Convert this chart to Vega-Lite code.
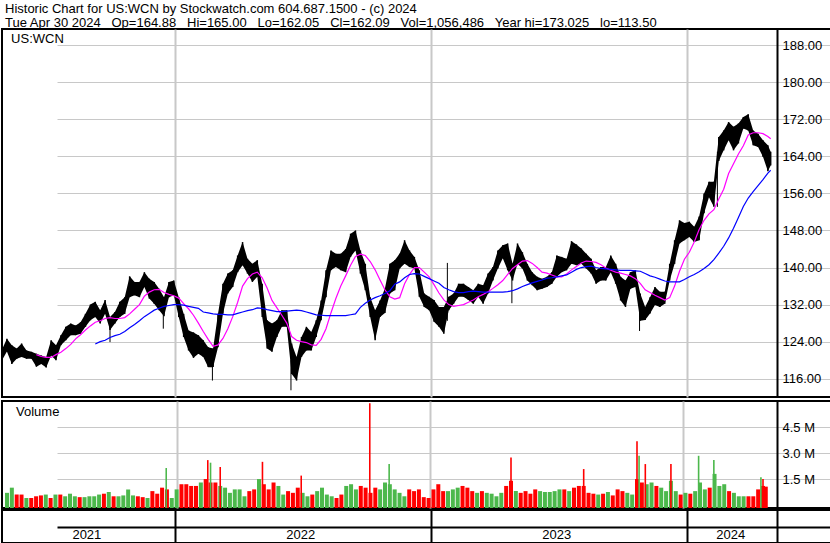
{
  "$schema": "https://vega.github.io/schema/vega-lite/v6.json",
  "background": "white",
  "padding": {"top": 3, "left": 0, "right": 0, "bottom": 0},
  "config": {
    "view": {"stroke": "black", "strokeWidth": 2},
    "axis": {"labelFont": "Liberation Sans", "labelFontSize": 13, "labelColor": "black"},
    "text": {"font": "Liberation Sans"}
  },
  "title": {
    "text": "Historic Chart for US:WCN by Stockwatch.com 604.687.1500 - (c) 2024",
    "subtitle": "Tue Apr 30 2024\u00a0\u00a0 Op=164.88\u00a0\u00a0 Hi=165.00\u00a0\u00a0 Lo=162.05\u00a0\u00a0 Cl=162.09\u00a0\u00a0 Vol=1,056,486\u00a0\u00a0 Year hi=173.025\u00a0\u00a0 lo=113.50",
    "anchor": "start", "frame": "group", "dx": 3, "offset": -2,
    "font": "Liberation Sans", "subtitleFont": "Liberation Sans",
    "fontSize": 13, "subtitleFontSize": 13, "fontWeight": "normal",
    "color": "black", "subtitleColor": "black", "subtitlePadding": 1
  },
  "datasets": {
    "w": [
      {"d":"2021-04-30","h":122.3,"l":120.0,"v":0.7,"c":"up"},
      {"d":"2021-05-07","h":124.6,"l":121.9,"v":1.0,"c":"up"},
      {"d":"2021-05-14","h":123.2,"l":119.2,"v":0.6,"c":"dn"},
      {"d":"2021-05-21","h":122.5,"l":120.3,"v":0.6,"c":"dn"},
      {"d":"2021-05-28","h":123.6,"l":120.7,"v":0.4,"c":"up"},
      {"d":"2021-06-04","h":122.1,"l":120.3,"v":0.4,"c":"dn"},
      {"d":"2021-06-11","h":121.8,"l":120.3,"v":0.5,"c":"dn"},
      {"d":"2021-06-18","h":121.4,"l":118.6,"v":0.55,"c":"dn","m1":121.2},
      {"d":"2021-06-25","h":121.0,"l":119.2,"v":0.6,"c":"up","m1":120.8},
      {"d":"2021-07-02","h":120.7,"l":118.4,"v":0.4,"c":"dn","m1":120.6},
      {"d":"2021-07-09","h":124.3,"l":121.0,"v":0.6,"c":"up","m1":120.6},
      {"d":"2021-07-16","h":123.2,"l":120.0,"v":0.6,"c":"dn","m1":121.2},
      {"d":"2021-07-23","h":125.4,"l":123.2,"v":0.5,"c":"up","m1":121.7},
      {"d":"2021-07-30","h":127.2,"l":124.3,"v":0.65,"c":"up","m1":122.5},
      {"d":"2021-08-06","h":127.9,"l":125.4,"v":0.5,"c":"up","m1":123.4},
      {"d":"2021-08-13","h":127.5,"l":125.4,"v":0.45,"c":"dn","m1":124.6},
      {"d":"2021-08-20","h":128.2,"l":125.7,"v":0.45,"c":"up","m1":125.5},
      {"d":"2021-08-27","h":130.0,"l":127.2,"v":0.5,"c":"up","m1":126.5},
      {"d":"2021-09-03","h":132.0,"l":128.6,"v":0.5,"c":"up","m1":127.4},
      {"d":"2021-09-10","h":132.6,"l":129.3,"v":0.6,"c":"up","m1":128.2,"m2":123.5},
      {"d":"2021-09-17","h":130.8,"l":127.9,"v":0.65,"c":"dn","m1":128.5,"m2":124.0},
      {"d":"2021-09-24","h":133.0,"l":130.0,"v":0.75,"c":"up","m1":129.0,"m2":124.3},
      {"d":"2021-10-01","h":129.3,"l":126.5,"v":0.5,"c":"dn","m1":129.2,"m2":124.9},
      {"d":"2021-10-08","h":130.4,"l":127.9,"v":0.5,"c":"up","m1":129.0,"m2":125.3},
      {"d":"2021-10-15","h":132.6,"l":129.3,"v":0.55,"c":"up","m1":129.0,"m2":125.6},
      {"d":"2021-10-22","h":133.6,"l":130.0,"v":0.9,"c":"up","m1":129.2,"m2":126.2},
      {"d":"2021-10-29","h":138.1,"l":133.6,"v":0.55,"c":"up","m1":130.0,"m2":127.0},
      {"d":"2021-11-05","h":136.9,"l":134.0,"v":0.5,"c":"dn","m1":131.0,"m2":127.7},
      {"d":"2021-11-12","h":136.9,"l":133.6,"v":0.45,"c":"dn","m1":132.0,"m2":128.5},
      {"d":"2021-11-19","h":139.0,"l":135.8,"v":0.4,"c":"up","m1":133.8,"m2":129.4},
      {"d":"2021-11-26","h":137.6,"l":133.3,"v":0.8,"c":"dn","m1":134.7,"m2":130.1},
      {"d":"2021-12-03","h":136.9,"l":132.2,"v":0.65,"c":"dn","m1":135.2,"m2":130.8},
      {"d":"2021-12-10","h":135.4,"l":130.8,"v":1.0,"c":"dn","m1":135.3,"m2":131.2},
      {"d":"2021-12-17","h":133.6,"l":129.5,"v":0.9,"c":"dn","m1":134.6,"m2":131.6},
      {"d":"2021-12-24","h":136.9,"l":133.6,"v":0.4,"c":"up","m1":134.2,"m2":131.8},
      {"d":"2021-12-31","h":137.2,"l":134.0,"v":0.9,"c":"up","m1":133.9,"m2":132.0},
      {"d":"2022-01-07","h":133.6,"l":129.3,"v":1.2,"c":"dn","m1":133.4,"m2":132.0},
      {"d":"2022-01-14","h":130.0,"l":125.0,"v":1.2,"c":"dn","m1":132.2,"m2":131.9},
      {"d":"2022-01-21","h":126.4,"l":122.1,"v":1.1,"c":"dn","m1":131.1,"m2":131.6},
      {"d":"2022-01-28","h":126.0,"l":120.5,"v":1.1,"c":"dn","m1":129.7,"m2":131.4},
      {"d":"2022-02-04","h":125.4,"l":121.4,"v":1.3,"c":"up","m1":128.0,"m2":131.2},
      {"d":"2022-02-11","h":124.3,"l":120.7,"v":1.5,"c":"dn","m1":126.2,"m2":130.4},
      {"d":"2022-02-18","h":122.8,"l":118.5,"v":1.3,"c":"dn","m1":124.5,"m2":130.2},
      {"d":"2022-02-25","h":122.5,"l":118.5,"v":1.3,"c":"dn","m1":123.0,"m2":130.0},
      {"d":"2022-03-04","h":130.0,"l":122.8,"v":1.1,"c":"up","m1":123.3,"m2":129.9},
      {"d":"2022-03-11","h":136.5,"l":130.0,"v":1.0,"c":"up","m1":124.7,"m2":129.9},
      {"d":"2022-03-18","h":138.7,"l":134.4,"v":0.7,"c":"up","m1":126.8,"m2":129.8},
      {"d":"2022-03-25","h":139.4,"l":135.8,"v":0.9,"c":"up","m1":129.4,"m2":129.8},
      {"d":"2022-04-01","h":142.6,"l":139.0,"v":0.9,"c":"up","m1":132.5,"m2":130.1},
      {"d":"2022-04-08","h":145.5,"l":140.5,"v":0.5,"c":"up","m1":136.0,"m2":130.4},
      {"d":"2022-04-15","h":141.9,"l":138.7,"v":0.8,"c":"dn","m1":137.6,"m2":130.7},
      {"d":"2022-04-22","h":140.8,"l":136.9,"v":0.9,"c":"dn","m1":138.6,"m2":130.9},
      {"d":"2022-04-29","h":141.6,"l":138.0,"v":1.5,"c":"up","m1":139.0,"m2":131.3},
      {"d":"2022-05-06","h":136.5,"l":129.3,"v":1.2,"c":"dn","m1":137.8,"m2":131.2},
      {"d":"2022-05-13","h":128.6,"l":122.5,"v":0.9,"c":"dn","m1":135.6,"m2":130.9},
      {"d":"2022-05-20","h":127.9,"l":121.8,"v":1.3,"c":"dn","m1":132.9,"m2":130.7},
      {"d":"2022-05-27","h":128.6,"l":125.0,"v":1.1,"c":"up","m1":131.3,"m2":130.5},
      {"d":"2022-06-03","h":130.8,"l":127.2,"v":0.6,"c":"up","m1":129.7,"m2":130.5},
      {"d":"2022-06-10","h":130.8,"l":127.2,"v":0.8,"c":"dn","m1":128.0,"m2":130.6},
      {"d":"2022-06-17","h":123.6,"l":117.0,"v":0.7,"c":"dn","m1":125.1,"m2":130.7},
      {"d":"2022-06-24","h":120.7,"l":115.6,"v":1.0,"c":"dn","m1":124.3,"m2":130.8},
      {"d":"2022-07-01","h":125.0,"l":120.7,"v":0.7,"c":"up","m1":124.0,"m2":130.7},
      {"d":"2022-07-08","h":127.2,"l":122.1,"v":0.5,"c":"up","m1":123.8,"m2":130.4},
      {"d":"2022-07-15","h":126.1,"l":122.1,"v":0.6,"c":"dn","m1":123.3,"m2":130.1},
      {"d":"2022-07-22","h":128.6,"l":125.0,"v":0.8,"c":"up","m1":123.2,"m2":129.8},
      {"d":"2022-07-29","h":132.9,"l":128.6,"v":1.0,"c":"up","m1":124.5,"m2":129.7},
      {"d":"2022-08-05","h":139.4,"l":133.6,"v":0.6,"c":"up","m1":126.8,"m2":129.6},
      {"d":"2022-08-12","h":143.7,"l":139.4,"v":0.5,"c":"up","m1":130.2,"m2":129.6},
      {"d":"2022-08-19","h":143.0,"l":140.1,"v":0.4,"c":"dn","m1":133.3,"m2":129.6},
      {"d":"2022-08-26","h":143.0,"l":139.4,"v":0.6,"c":"dn","m1":136.0,"m2":129.6},
      {"d":"2022-09-02","h":144.0,"l":139.0,"v":1.1,"c":"up","m1":138.2,"m2":129.6},
      {"d":"2022-09-09","h":147.3,"l":142.3,"v":1.2,"c":"up","m1":140.5,"m2":129.8},
      {"d":"2022-09-16","h":148.0,"l":143.7,"v":0.9,"c":"up","m1":142.4,"m2":130.0},
      {"d":"2022-09-23","h":143.7,"l":138.7,"v":1.1,"c":"dn","m1":142.9,"m2":131.4},
      {"d":"2022-09-30","h":140.8,"l":135.1,"v":1.0,"c":"dn","m1":142.6,"m2":132.3},
      {"d":"2022-10-07","h":133.6,"l":129.3,"v":0.7,"c":"dn","m1":141.3,"m2":133.0},
      {"d":"2022-10-14","h":130.8,"l":124.3,"v":1.0,"c":"dn","m1":139.5,"m2":133.5},
      {"d":"2022-10-21","h":132.9,"l":129.3,"v":0.9,"c":"up","m1":137.3,"m2":133.9},
      {"d":"2022-10-28","h":135.5,"l":130.2,"v":1.3,"c":"up","m1":135.2,"m2":134.4},
      {"d":"2022-11-04","h":140.8,"l":134.4,"v":1.2,"c":"up","m1":133.7,"m2":135.0},
      {"d":"2022-11-11","h":141.6,"l":135.1,"v":0.9,"c":"up","m1":133.2,"m2":136.4},
      {"d":"2022-11-18","h":143.0,"l":139.8,"v":0.7,"c":"up","m1":133.5,"m2":136.9},
      {"d":"2022-11-25","h":145.9,"l":140.8,"v":0.5,"c":"up","m1":136.5,"m2":137.8},
      {"d":"2022-12-02","h":143.7,"l":140.1,"v":0.9,"c":"dn","m1":138.5,"m2":138.5},
      {"d":"2022-12-09","h":142.3,"l":139.8,"v":0.8,"c":"dn","m1":140.0,"m2":138.7},
      {"d":"2022-12-16","h":139.4,"l":133.7,"v":0.9,"c":"dn","m1":140.0,"m2":138.6},
      {"d":"2022-12-23","h":134.4,"l":131.5,"v":0.45,"c":"dn","m1":139.0,"m2":138.1},
      {"d":"2022-12-30","h":133.7,"l":130.8,"v":0.4,"c":"dn","m1":138.0,"m2":137.6},
      {"d":"2023-01-06","h":133.0,"l":128.3,"v":0.9,"c":"dn","m1":136.3,"m2":137.1},
      {"d":"2023-01-13","h":131.5,"l":127.2,"v":1.2,"c":"dn","m1":134.5,"m2":136.6},
      {"d":"2023-01-20","h":131.5,"l":125.7,"v":0.8,"c":"dn","m1":133.0,"m2":135.7},
      {"d":"2023-01-27","h":133.7,"l":130.8,"v":0.8,"c":"up","m1":132.0,"m2":135.2},
      {"d":"2023-02-03","h":134.4,"l":132.2,"v":0.9,"c":"up","m1":131.6,"m2":134.8},
      {"d":"2023-02-10","h":136.5,"l":133.7,"v":1.0,"c":"up","m1":131.8,"m2":134.6},
      {"d":"2023-02-17","h":136.5,"l":133.7,"v":1.1,"c":"dn","m1":132.0,"m2":134.6},
      {"d":"2023-02-24","h":135.8,"l":133.0,"v":1.0,"c":"dn","m1":132.5,"m2":134.8},
      {"d":"2023-03-03","h":135.1,"l":132.2,"v":0.8,"c":"dn","m1":133.0,"m2":134.9},
      {"d":"2023-03-10","h":136.5,"l":133.7,"v":0.7,"c":"up","m1":133.7,"m2":134.8},
      {"d":"2023-03-17","h":136.2,"l":132.2,"v":0.8,"c":"dn","m1":134.2,"m2":134.7},
      {"d":"2023-03-24","h":138.7,"l":134.4,"v":0.7,"c":"up","m1":134.8,"m2":134.7},
      {"d":"2023-03-31","h":140.1,"l":137.2,"v":0.65,"c":"up","m1":135.5,"m2":134.7},
      {"d":"2023-04-07","h":143.7,"l":139.8,"v":0.5,"c":"up","m1":136.3,"m2":134.7},
      {"d":"2023-04-14","h":144.8,"l":142.0,"v":0.7,"c":"up","m1":137.2,"m2":134.7},
      {"d":"2023-04-21","h":145.2,"l":139.4,"v":1.1,"c":"dn","m1":138.5,"m2":134.8},
      {"d":"2023-04-28","h":140.8,"l":137.2,"v":1.4,"c":"dn","m1":139.8,"m2":135.0},
      {"d":"2023-05-05","h":145.2,"l":140.8,"v":0.8,"c":"up","m1":140.6,"m2":135.4},
      {"d":"2023-05-12","h":143.3,"l":139.8,"v":0.7,"c":"dn","m1":141.4,"m2":135.9},
      {"d":"2023-05-19","h":140.8,"l":137.2,"v":0.8,"c":"dn","m1":141.5,"m2":136.3},
      {"d":"2023-05-26","h":139.0,"l":136.2,"v":0.65,"c":"dn","m1":140.9,"m2":136.7},
      {"d":"2023-06-02","h":138.0,"l":135.1,"v":0.9,"c":"dn","m1":140.0,"m2":137.0},
      {"d":"2023-06-09","h":137.6,"l":135.4,"v":0.8,"c":"up","m1":139.0,"m2":137.3},
      {"d":"2023-06-16","h":138.0,"l":135.8,"v":0.75,"c":"up","m1":138.8,"m2":137.7},
      {"d":"2023-06-23","h":139.0,"l":136.5,"v":0.75,"c":"up","m1":138.4,"m2":137.8},
      {"d":"2023-06-30","h":142.6,"l":138.0,"v":0.8,"c":"up","m1":138.0,"m2":138.0},
      {"d":"2023-07-07","h":142.3,"l":139.0,"v":0.9,"c":"up","m1":138.0,"m2":138.2},
      {"d":"2023-07-14","h":141.9,"l":139.4,"v":0.9,"c":"dn","m1":138.6,"m2":138.4},
      {"d":"2023-07-21","h":145.7,"l":140.8,"v":0.8,"c":"up","m1":139.5,"m2":139.0},
      {"d":"2023-07-28","h":145.0,"l":140.5,"v":1.0,"c":"dn","m1":140.2,"m2":139.6},
      {"d":"2023-08-04","h":144.1,"l":140.8,"v":1.1,"c":"dn","m1":141.0,"m2":140.0},
      {"d":"2023-08-11","h":143.0,"l":139.8,"v":1.1,"c":"dn","m1":141.4,"m2":140.2},
      {"d":"2023-08-18","h":141.9,"l":138.7,"v":0.7,"c":"dn","m1":141.3,"m2":140.3},
      {"d":"2023-08-25","h":139.4,"l":136.5,"v":0.65,"c":"dn","m1":141.1,"m2":140.0},
      {"d":"2023-09-01","h":140.1,"l":137.2,"v":0.6,"c":"up","m1":140.6,"m2":139.8},
      {"d":"2023-09-08","h":140.1,"l":137.2,"v":0.65,"c":"dn","m1":139.9,"m2":139.7},
      {"d":"2023-09-15","h":142.6,"l":139.0,"v":0.75,"c":"up","m1":139.4,"m2":139.6},
      {"d":"2023-09-22","h":140.8,"l":136.5,"v":0.55,"c":"dn","m1":139.0,"m2":139.5},
      {"d":"2023-09-29","h":138.0,"l":132.9,"v":0.9,"c":"dn","m1":138.8,"m2":139.4},
      {"d":"2023-10-06","h":137.2,"l":131.5,"v":0.8,"c":"dn","m1":138.5,"m2":139.4},
      {"d":"2023-10-13","h":139.0,"l":135.4,"v":0.7,"c":"up","m1":138.2,"m2":139.4},
      {"d":"2023-10-20","h":139.4,"l":135.8,"v":0.6,"c":"up","m1":137.6,"m2":139.3},
      {"d":"2023-10-27","h":134.4,"l":128.5,"v":1.5,"c":"dn","m1":136.6,"m2":139.2},
      {"d":"2023-11-03","h":131.5,"l":128.7,"v":1.3,"c":"dn","m1":135.2,"m2":138.7},
      {"d":"2023-11-10","h":133.6,"l":130.1,"v":1.2,"c":"up","m1":134.6,"m2":138.2},
      {"d":"2023-11-17","h":135.8,"l":131.9,"v":1.3,"c":"up","m1":134.0,"m2":137.9},
      {"d":"2023-11-24","h":134.8,"l":131.5,"v":1.1,"c":"dn","m1":133.5,"m2":137.5},
      {"d":"2023-12-01","h":134.8,"l":132.2,"v":1.0,"c":"up","m1":133.0,"m2":137.1},
      {"d":"2023-12-08","h":140.8,"l":137.2,"v":0.8,"c":"up","m1":133.5,"m2":136.9},
      {"d":"2023-12-15","h":145.9,"l":140.8,"v":1.4,"c":"up","m1":136.0,"m2":136.9},
      {"d":"2023-12-22","h":150.2,"l":145.2,"v":0.8,"c":"up","m1":139.2,"m2":136.9},
      {"d":"2023-12-29","h":149.6,"l":145.9,"v":0.6,"c":"dn","m1":141.8,"m2":137.4},
      {"d":"2024-01-05","h":149.9,"l":146.6,"v":0.7,"c":"up","m1":143.3,"m2":138.0},
      {"d":"2024-01-12","h":148.8,"l":145.5,"v":0.65,"c":"dn","m1":145.5,"m2":138.5},
      {"d":"2024-01-19","h":151.0,"l":145.9,"v":0.8,"c":"up","m1":148.2,"m2":139.1},
      {"d":"2024-01-26","h":156.0,"l":151.7,"v":1.3,"c":"up","m1":150.2,"m2":139.8},
      {"d":"2024-02-02","h":158.5,"l":155.2,"v":0.9,"c":"up","m1":151.6,"m2":140.6},
      {"d":"2024-02-09","h":158.5,"l":153.1,"v":1.0,"c":"dn","m1":152.5,"m2":141.7},
      {"d":"2024-02-16","h":168.2,"l":163.0,"v":1.8,"c":"up","m1":154.8,"m2":143.1},
      {"d":"2024-02-23","h":169.6,"l":165.3,"v":1.1,"c":"up","m1":156.9,"m2":144.6},
      {"d":"2024-03-01","h":171.4,"l":167.5,"v":1.2,"c":"up","m1":160.3,"m2":146.4},
      {"d":"2024-03-08","h":170.4,"l":165.3,"v":0.8,"c":"dn","m1":162.4,"m2":148.5},
      {"d":"2024-03-15","h":171.1,"l":166.8,"v":0.7,"c":"up","m1":164.5,"m2":150.8},
      {"d":"2024-03-22","h":172.5,"l":170.0,"v":0.5,"c":"up","m1":166.3,"m2":153.2},
      {"d":"2024-03-29","h":173.1,"l":169.6,"v":0.5,"c":"up","m1":168.6,"m2":155.0},
      {"d":"2024-04-05","h":169.6,"l":166.4,"v":0.5,"c":"dn","m1":169.1,"m2":156.4},
      {"d":"2024-04-12","h":168.9,"l":166.0,"v":0.5,"c":"dn","m1":169.1,"m2":157.7},
      {"d":"2024-04-19","h":167.5,"l":163.9,"v":0.9,"c":"dn","m1":168.9,"m2":159.0},
      {"d":"2024-04-26","h":166.4,"l":160.8,"v":1.1,"c":"dn","m1":168.3,"m2":160.4},
      {"d":"2024-04-30","h":165.0,"l":162.05,"v":1.06,"c":"dn","m1":167.8,"m2":161.0}
    ],
    "ps": [
      {"d":"2021-10-01","h":128.5,"l":123.9},
      {"d":"2021-12-16","h":131.0,"l":126.8},
      {"d":"2022-02-24","h":121.0,"l":115.6},
      {"d":"2022-06-16","h":120.0,"l":113.5},
      {"d":"2023-01-25","h":141.0,"l":128.5},
      {"d":"2023-04-27","h":138.0,"l":132.3},
      {"d":"2023-10-26","h":131.0,"l":126.3},
      {"d":"2024-02-14","h":165.0,"l":153.1}
    ],
    "vs": [
      {"d":"2021-12-16","v":2.14,"c":"up"},
      {"d":"2022-02-14","v":2.6,"c":"dn"},
      {"d":"2022-02-18","v":2.45,"c":"up"},
      {"d":"2022-03-04","v":2.2,"c":"dn"},
      {"d":"2022-05-04","v":2.5,"c":"dn"},
      {"d":"2022-06-29","v":1.7,"c":"dn"},
      {"d":"2022-10-06","v":5.9,"c":"dn"},
      {"d":"2022-11-03","v":2.37,"c":"up"},
      {"d":"2023-04-28","v":2.75,"c":"dn"},
      {"d":"2023-08-11","v":2.08,"c":"dn"},
      {"d":"2023-10-27","v":3.7,"c":"dn"},
      {"d":"2023-10-30","v":2.85,"c":"up"},
      {"d":"2023-11-08","v":2.37,"c":"dn"},
      {"d":"2023-12-15","v":2.37,"c":"dn"},
      {"d":"2024-01-24","v":2.85,"c":"up"},
      {"d":"2024-02-15","v":2.6,"c":"up"},
      {"d":"2024-04-23","v":1.6,"c":"up"},
      {"d":"2024-04-26","v":1.5,"c":"dn"}
    ],
    "yl": [
      {"d":"2021-08-29","yr":"2021"},
      {"d":"2022-06-30","yr":"2022"},
      {"d":"2023-06-30","yr":"2023"},
      {"d":"2024-03-04","yr":"2024"}
    ]
  },
  "spacing": 2,
  "resolve": {"scale": {"y": "independent", "color": "independent"}},
  "vconcat": [
    {
      "width": 830,
      "height": 368,
      "layer": [
        {
          "data": {"name": "w"},
          "mark": {"type": "area", "color": "black", "opacity": 1, "interpolate": "linear"},
          "encoding": {
            "x": {"field": "d", "type": "temporal", "title": null,
              "scale": {"type": "utc", "nice": false, "range": [0, 775],
                "domain": [{"year": 2021, "month": 4, "date": 30, "utc": true}, {"year": 2024, "month": 5, "date": 9, "utc": true}]},
              "axis": {"values": [{"year": 2022, "month": 1, "date": 1, "utc": true}, {"year": 2023, "month": 1, "date": 1, "utc": true}, {"year": 2024, "month": 1, "date": 1, "utc": true}],
                "labels": false, "ticks": false, "domain": false, "grid": true, "gridColor": "#c8c8c8", "gridWidth": 2, "title": null}},
            "y": {"field": "h", "type": "quantitative", "title": null,
              "scale": {"domain": [112.05, 191.5], "nice": false, "zero": false},
              "axis": {"orient": "right", "offset": -55, "values": [116,120,124,128,132,136,140,144,148,152,156,160,164,168,172,176,180,184,188],
                "format": ".2f", "ticks": false, "labelPadding": 5, "domain": true, "domainColor": "black", "domainWidth": 2,
                "grid": true, "gridColor": "#c8c8c8", "gridWidth": 1, "title": null}},
            "y2": {"field": "l"}
          }
        },
        {
          "data": {"name": "w"},
          "mark": {"type": "rule", "color": "black", "strokeWidth": 1.5},
          "encoding": {
            "x": {"field": "d", "type": "temporal", "title": null},
            "y": {"field": "h", "type": "quantitative", "title": null},
            "y2": {"field": "l"}
          }
        },
        {
          "data": {"name": "ps"},
          "mark": {"type": "rule", "color": "black", "strokeWidth": 1},
          "encoding": {
            "x": {"field": "d", "type": "temporal", "title": null},
            "y": {"field": "h", "type": "quantitative", "title": null},
            "y2": {"field": "l"}
          }
        },
        {
          "data": {"name": "w"},
          "mark": {"type": "line", "color": "#ff00ff", "strokeWidth": 1.2},
          "encoding": {
            "x": {"field": "d", "type": "temporal", "title": null},
            "y": {"field": "m1", "type": "quantitative", "title": null}
          }
        },
        {
          "data": {"name": "w"},
          "mark": {"type": "line", "color": "#0000ff", "strokeWidth": 1.2},
          "encoding": {
            "x": {"field": "d", "type": "temporal", "title": null},
            "y": {"field": "m2", "type": "quantitative", "title": null}
          }
        },
        {
          "data": {"values": [{"t": "US:WCN"}]},
          "mark": {"type": "text", "align": "left", "baseline": "middle", "fontSize": 13, "color": "black"},
          "encoding": {
            "x": {"datum": {"year": 2021, "month": 5, "date": 13, "utc": true}, "type": "temporal"},
            "y": {"datum": 189.4, "type": "quantitative"},
            "text": {"field": "t"}
          }
        }
      ]
    },
    {
      "spacing": 0,
      "resolve": {"scale": {"y": "independent", "color": "independent"}},
      "vconcat": [
        {
          "width": 830,
          "height": 107,
          "layer": [
            {
              "data": {"name": "w"},
              "mark": {"type": "bar", "width": 4},
              "encoding": {
                "x": {"field": "d", "type": "temporal", "title": null,
                  "scale": {"type": "utc", "nice": false, "range": [0, 775],
                    "domain": [{"year": 2021, "month": 4, "date": 30, "utc": true}, {"year": 2024, "month": 5, "date": 9, "utc": true}]},
                  "axis": {"values": [{"year": 2022, "month": 1, "date": 1, "utc": true}, {"year": 2023, "month": 1, "date": 1, "utc": true}, {"year": 2024, "month": 1, "date": 1, "utc": true}],
                    "labels": false, "ticks": false, "domain": false, "grid": true, "gridColor": "#c8c8c8", "gridWidth": 2, "title": null}},
                "y": {"field": "v", "type": "quantitative", "title": null,
                  "scale": {"domain": [-0.18, 6.03], "nice": false, "zero": false},
                  "axis": {"orient": "right", "offset": -55, "values": [1.5, 3, 4.5],
                    "labelExpr": "format(datum.value, '.1f') + ' M'", "ticks": false, "labelPadding": 5, "domain": true, "domainColor": "black", "domainWidth": 2,
                    "grid": true, "gridColor": "#c8c8c8", "gridWidth": 1, "title": null}},
                "y2": {"datum": -0.18},
                "color": {"field": "c", "type": "nominal", "legend": null,
                  "scale": {"domain": ["up", "dn", "un"], "range": ["#4cb84c", "#ff0000", "#a0a0a0"]}}
              }
            },
            {
              "data": {"name": "vs"},
              "mark": {"type": "bar", "width": 1.6},
              "encoding": {
                "x": {"field": "d", "type": "temporal", "title": null},
                "y": {"field": "v", "type": "quantitative", "title": null},
                "y2": {"datum": -0.18},
                "color": {"field": "c", "type": "nominal", "legend": null}
              }
            },
            {
              "data": {"values": [{"t": "Volume"}]},
              "mark": {"type": "text", "align": "left", "baseline": "middle", "fontSize": 13, "color": "black"},
              "encoding": {
                "x": {"datum": {"year": 2021, "month": 5, "date": 13, "utc": true}, "type": "temporal"},
                "y": {"datum": 5.37, "type": "quantitative"},
                "text": {"field": "t"}
              }
            }
          ]
        },
        {
          "width": 830,
          "height": 33,
          "data": {"name": "yl"},
          "mark": {"type": "text", "fontSize": 13, "color": "black", "align": "center", "baseline": "middle"},
          "encoding": {
            "x": {"field": "d", "type": "temporal", "title": null,
              "scale": {"type": "utc", "nice": false, "range": [0, 775],
                "domain": [{"year": 2021, "month": 4, "date": 30, "utc": true}, {"year": 2024, "month": 5, "date": 9, "utc": true}]},
              "axis": {"values": [{"year": 2022, "month": 1, "date": 1, "utc": true}, {"year": 2023, "month": 1, "date": 1, "utc": true}, {"year": 2024, "month": 1, "date": 1, "utc": true}],
                "labels": false, "ticks": false, "domain": false, "grid": true, "gridColor": "black", "gridWidth": 2, "title": null}},
            "y": {"datum": 0.5, "type": "quantitative", "title": null,
              "scale": {"domain": [0, 2], "nice": false, "zero": false},
              "axis": {"orient": "right", "offset": -55, "values": [1], "labels": false, "ticks": false,
                "domain": true, "domainColor": "black", "domainWidth": 2, "grid": true, "gridColor": "black", "gridWidth": 2, "title": null}},
            "text": {"field": "yr"}
          }
        }
      ]
    }
  ]
}
